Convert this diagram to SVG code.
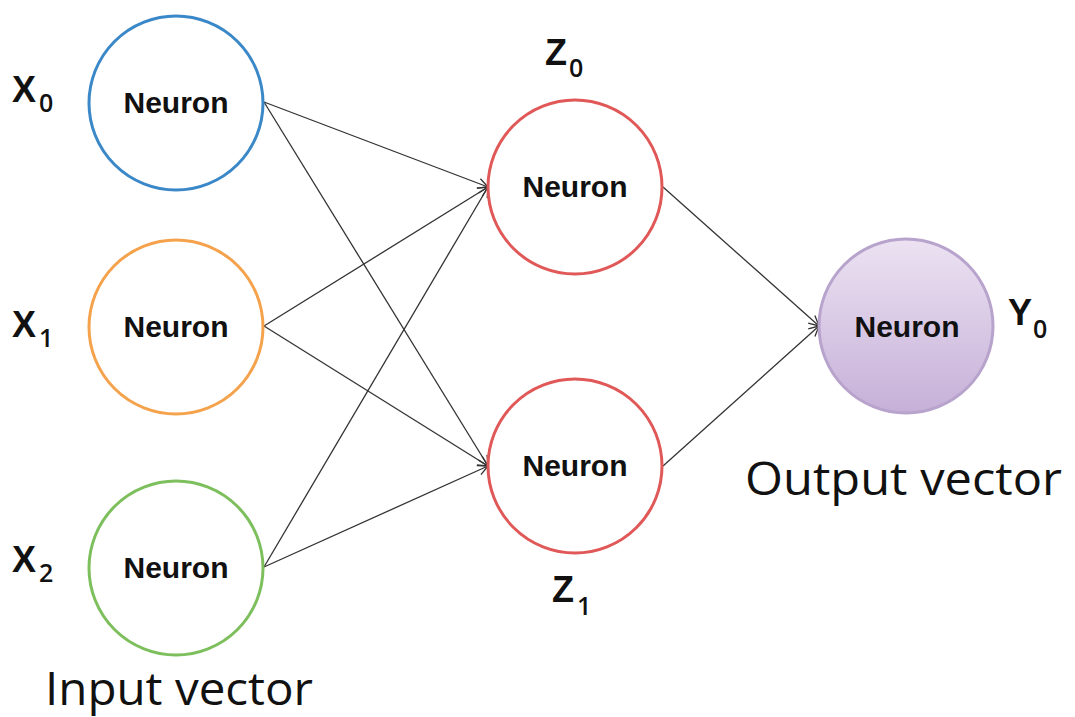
<svg xmlns="http://www.w3.org/2000/svg" width="1075" height="717" viewBox="0 0 1075 717">
<defs>
<style>
.nl{font-family:"Liberation Sans",Arial,sans-serif;font-weight:bold;font-size:30px;fill:#111;text-anchor:middle}
.var{font-family:"Liberation Sans",Arial,sans-serif;font-weight:bold;font-size:36px;fill:#111}
.sub{font-family:"Open Sans","Liberation Sans",sans-serif;font-weight:600;font-size:25px;fill:#111}
.cap{font-family:"Open Sans","Liberation Sans",sans-serif;font-size:46px;fill:#111}
.edge{stroke:#333;stroke-width:1.3;fill:none;marker-end:url(#arr)}
circle{fill:#fff;stroke-width:3}
</style>
<marker id="arr" viewBox="0 0 12 12" refX="11" refY="6" markerWidth="12" markerHeight="12" markerUnits="userSpaceOnUse" orient="auto">
<path d="M1,1 L11,6 L1,11" fill="none" stroke="#333" stroke-width="1.3"/>
</marker>
<linearGradient id="lav" x1="0" y1="0" x2="0" y2="1">
<stop offset="0" stop-color="#ece2f2"/>
<stop offset="1" stop-color="#c6b0d8"/>
</linearGradient>
</defs>
<rect width="1075" height="717" fill="#fff"/>
<g id="connectors">
<line class="edge" x1="264" y1="102" x2="488" y2="187"/>
<line class="edge" x1="264" y1="102" x2="488" y2="466"/>
<line class="edge" x1="264" y1="326" x2="488" y2="187"/>
<line class="edge" x1="264" y1="326" x2="488" y2="466"/>
<line class="edge" x1="264" y1="567" x2="488" y2="187"/>
<line class="edge" x1="264" y1="567" x2="488" y2="466"/>
<line class="edge" x1="663" y1="187" x2="819" y2="326"/>
<line class="edge" x1="663" y1="466" x2="819" y2="326"/>
</g>
<g id="x0">
<circle cx="176" cy="103" r="87" stroke="#3b88c8"/>
<text class="nl" x="176" y="113">Neuron</text>
<text class="var" x="12" y="102">X</text><text class="sub" x="39" y="112">0</text>
</g>
<g id="x1">
<circle cx="176" cy="327" r="87" stroke="#f5a24c"/>
<text class="nl" x="176" y="337">Neuron</text>
<text class="var" x="12" y="337">X</text><text class="sub" x="39" y="347">1</text>
</g>
<g id="x2">
<circle cx="176" cy="568" r="87" stroke="#7dbf5c"/>
<text class="nl" x="176" y="578">Neuron</text>
<text class="var" x="12" y="572">X</text><text class="sub" x="39" y="582">2</text>
</g>
<g id="z0">
<circle cx="575" cy="187" r="87" stroke="#e05858"/>
<text class="nl" x="575" y="197">Neuron</text>
<text class="var" x="545" y="65">Z</text><text class="sub" x="569" y="77">0</text>
</g>
<g id="z1">
<circle cx="575" cy="466" r="87" stroke="#e05858"/>
<text class="nl" x="575" y="476">Neuron</text>
<text class="var" x="552" y="602">Z</text><text class="sub" x="577" y="615">1</text>
</g>
<g id="y0">
<circle cx="906" cy="326" r="87" stroke="#b7a3cc" stroke-width="1.5" style="fill:url(#lav)"/>
<text class="nl" x="907" y="337">Neuron</text>
<text class="var" x="1008" y="325">Y</text><text class="sub" x="1033" y="338">0</text>
</g>
<g id="labels">
<text class="cap" x="45" y="705" textLength="268" lengthAdjust="spacingAndGlyphs">Input vector</text>
<text class="cap" x="745" y="495" textLength="317" lengthAdjust="spacingAndGlyphs">Output vector</text>
</g>
</svg>
